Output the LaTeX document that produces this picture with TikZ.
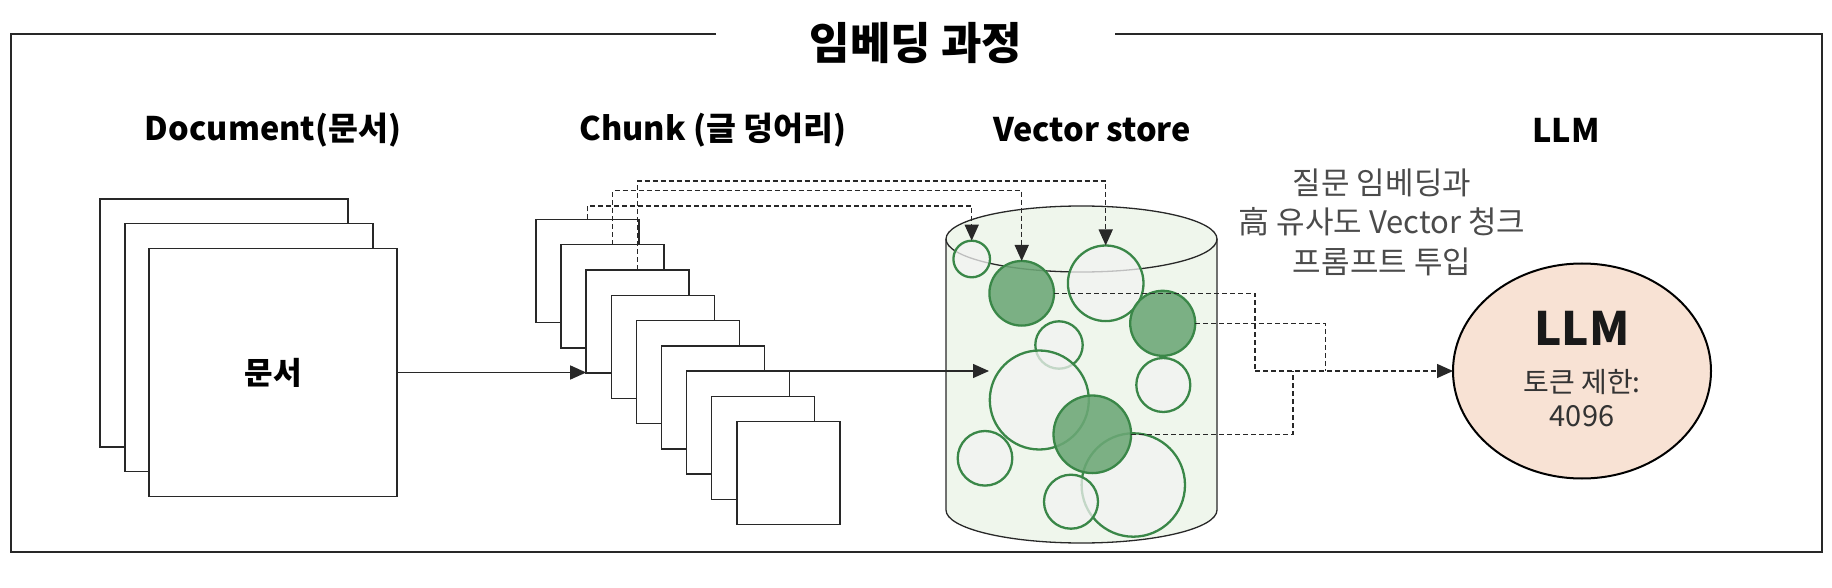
\documentclass[tikz,border=0pt]{standalone}
\usepackage{fontspec}
\setmainfont{Noto Sans CJK KR}
\usetikzlibrary{arrows.meta,shapes.geometric}
\definecolor{cylfill}{RGB}{239,246,236}
\definecolor{cgreen}{RGB}{58,135,72}
\definecolor{dgreen}{RGB}{108,167,118}
\definecolor{lgray}{RGB}{242,242,242}
\definecolor{peach}{RGB}{248,226,212}
\definecolor{txtgray}{RGB}{75,75,75}
\definecolor{lineblk}{RGB}{40,40,40}
\begin{document}
\begin{tikzpicture}[x=1pt,y=-1pt,
  sheet/.style={draw=lineblk,line width=1.5pt,fill=white,minimum width=248pt,minimum height=248pt,inner sep=0pt,outer sep=0pt},
  chunkbox/.style={draw=lineblk,line width=1.5pt,fill=white,minimum width=103pt,minimum height=103pt,inner sep=0pt,outer sep=0pt},
  vlight/.style={circle,draw=cgreen,line width=2.3pt,fill=lgray,fill opacity=0.75,inner sep=0pt,outer sep=0pt},
  vdark/.style={circle,draw=cgreen,line width=2.3pt,fill=dgreen,fill opacity=0.88,inner sep=0pt,outer sep=0pt},
  dline/.style={lineblk,line width=1.4pt,dash pattern=on 5pt off 3pt},
  sline/.style={lineblk,line width=1.3pt},
  tip/.style={-{Triangle[length=16pt,width=14pt]}},
  head/.style={font=\bfseries\fontsize{32.5}{38}\selectfont,inner sep=0pt},
  cylline/.style={lineblk,line width=1.3pt},
]
\useasboundingbox (0,0) rectangle (1832,588);
% frame and title
\draw[lineblk,line width=1.8pt] (716,34) -- (11,34) -- (11,552) -- (1822,552) -- (1822,34) -- (1115,34);
\node[font=\bfseries\fontsize{44}{50}\selectfont,inner sep=0pt] (title) at (916,43.5) {임베딩 과정};
% headers
\node[head] (hdoc) at (273,130) {Document(문서)};
\node[head] (hchunk) at (713,130) {Chunk (글 덩어리)};
\node[head] (hvec) at (1092,130) {Vector store};
\node[head] (hllm) at (1566,130) {LLM};
% documents
\node[sheet] (doc1) at (224,323) {};
\node[sheet] (doc2) at (249,347.5) {};
\node[sheet,font=\bfseries\fontsize{31}{36}\selectfont] (doc3) at (273,372.5) {문서};
% chunks
\foreach \i in {1,...,9}{
  \node[chunkbox] (ch\i) at ({536+51.5+25.1*(\i-1)},{219.5+51.5+25.25*(\i-1)}) {};
}
% cylinder
\fill[cylfill] (946,239) -- (946,510) arc[start angle=180,end angle=0,x radius=135.5,y radius=33] -- (1217,239) arc[start angle=0,end angle=-180,x radius=135.5,y radius=33] -- cycle;
\draw[cylline] (946,239) -- (946,510) arc[start angle=180,end angle=0,x radius=135.5,y radius=33] -- (1217,239);
\draw[cylline] (1081.5,239) ellipse[x radius=135.5,y radius=33];
% vectors
\node[vlight,minimum size=47.4pt] (v5) at (1059,345) {};
\node[vlight,minimum size=99pt] (v6) at (1039.3,400) {};
\node[vlight,minimum size=103.4pt] (v10) at (1133.3,485) {};
\node[vlight,minimum size=54pt] (v11) at (1071,501.7) {};
\node[vdark,minimum size=77.6pt] (v8) at (1092.3,434.3) {};
\node[vlight,minimum size=54pt] (v7) at (1163.3,385) {};
\node[vlight,minimum size=54.6pt] (v9) at (985,458.3) {};
\node[vlight,minimum size=36.6pt] (v1) at (971.7,259) {};
\node[vlight,minimum size=75.6pt] (v3) at (1105.7,283.3) {};
\node[vdark,minimum size=64.6pt] (v2) at (1021.7,293.3) {};
\node[vdark,minimum size=65pt] (v4) at (1162.7,323.3) {};
% LLM
\node[ellipse,draw=black,line width=2pt,fill=peach,minimum width=258pt,minimum height=215pt,inner sep=0pt,outer sep=0pt] (llm) at (1582,371) {};
\node[font=\bfseries\fontsize{46}{50}\selectfont,text=black!90,inner sep=0pt] (llmt) at (1582,328) {LLM};
\node[font=\fontsize{28}{32}\selectfont,text=black!80,inner sep=0pt] (llmtok) at (1582,382) {토큰 제한:};
\node[font=\fontsize{29}{32}\selectfont,text=black!80,inner sep=0pt] (llmnum) at (1582,416) {4096};
% side text
\node[font=\fontsize{31}{39.5}\selectfont,text=txtgray,align=center,inner sep=0pt] (note) at (1382,222) {질문 임베딩과\\高 유사도 Vector 청크\\프롬프트 투입};
% solid arrows
\coordinate (vin) at (989,371);
\draw[sline,tip] (doc3.east) -- (doc3.east -| ch3.west);
\draw[sline,tip] (ch7.north east) -- (ch7.north east -| vin);
% dashed from chunks to vectors
\draw[dline,tip] (ch1.north) -- ++(0,-13.5) -| (v1.north);
\draw[dline,tip] (ch2.north) -- ++(0,-54) -| (v2.north);
\draw[dline,tip] (ch3.north) -- ++(0,-89) -| (v3.north);
% dashed from vectors to LLM
\coordinate (m1) at (1255,371);
\coordinate (m2) at (1325.7,371);
\coordinate (m3) at (1293,371);
\draw[dline] (v2.east) -| (m1);
\draw[dline] (v4.east) -| (m2);
\draw[dline] (v8.east) -| (m3);
\draw[dline,tip] (m1) -- (llm.west);
\end{tikzpicture}
\end{document}
